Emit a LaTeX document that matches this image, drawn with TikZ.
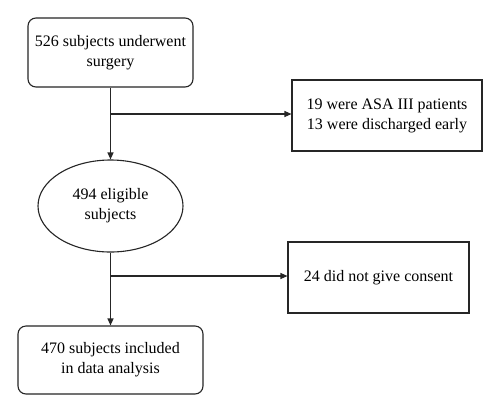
\documentclass[tikz,border=0pt]{standalone}
\usepackage{fontspec}
\setmainfont{Liberation Serif}
\usetikzlibrary{shapes.geometric,arrows.meta}
\begin{document}
\begin{tikzpicture}[x=1pt,y=-1pt,
  every node/.style={font=\fontsize{16}{20}\selectfont, align=center, draw=black!85, line width=1.1pt, inner sep=2pt},
  rbox/.style={rectangle, rounded corners=8pt},
  sbox/.style={rectangle},
  ebox/.style={ellipse},
  conn/.style={line width=1.1pt, draw=black!85, -{Triangle[length=7pt,width=6pt]}},
  plain/.style={line width=1.1pt, draw=black!85}]
\useasboundingbox[fill=white] (0,0) rectangle (500,413);
\node[rbox, minimum width=165pt, minimum height=69pt] (b1) at (110.5,52.5) {526 subjects underwent\\surgery};
\node[sbox, minimum width=190pt, minimum height=71pt] (r1) at (387,115.5) {19 were ASA III patients\\13 were discharged early};
\node[ebox, inner sep=0pt, minimum width=145pt, minimum height=92pt] (e) at (110.5,206) {494 eligible\\subjects};
\node[sbox, minimum width=181pt, minimum height=71pt] (r2) at (378.5,277.5) {24 did not give consent};
\node[rbox, minimum width=185pt, minimum height=68pt] (b3) at (110.5,360) {470 subjects included\\in data analysis};
\coordinate (j1) at (110.5,114);
\coordinate (j2) at (110.5,276);
\draw[conn] (b1.south) -- (e.north);
\draw[conn] (j1) -- (j1 -| r1.west);
\draw[conn] (e.south) -- (b3.north);
\draw[conn] (j2) -- (j2 -| r2.west);
\end{tikzpicture}
\end{document}
